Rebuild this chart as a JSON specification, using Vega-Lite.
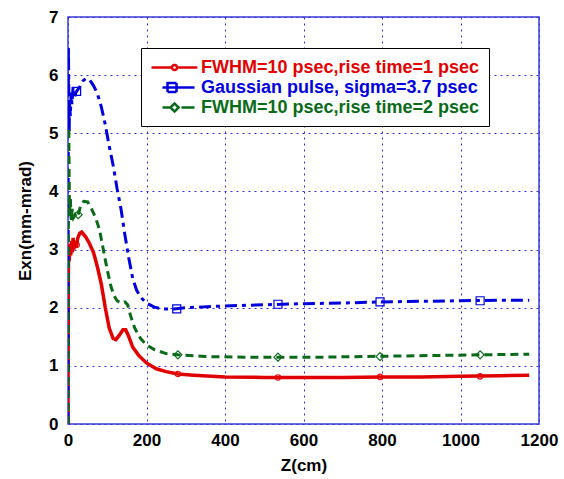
{
  "$schema": "https://vega.github.io/schema/vega-lite/v6.json",
  "autosize": "none",
  "padding": {"left": 68, "top": 17, "right": 25, "bottom": 55},
  "width": 471,
  "height": 407,
  "background": "white",
  "config": {
    "font": "Liberation Sans",
    "view": {"stroke": "#3a3ad8", "strokeWidth": 1.5},
    "axis": {
      "grid": true, "gridColor": "#3030d0", "gridDash": [2, 4], "gridWidth": 1, "gridOpacity": 1,
      "domain": false, "ticks": false, "format": "d",
      "labelFont": "Liberation Sans", "labelFontWeight": "bold", "labelFontSize": 17, "labelColor": "black",
      "titleFont": "Liberation Sans", "titleFontWeight": "bold", "titleFontSize": 17, "titleColor": "black"
    }
  },
  "datasets": {
    "curves": [
      {"s": "FWHM=10 psec,rise time=1 psec", "z": 0, "v": 0},
      {"s": "FWHM=10 psec,rise time=1 psec", "z": 0.5, "v": 1.5},
      {"s": "FWHM=10 psec,rise time=1 psec", "z": 1, "v": 2.7},
      {"s": "FWHM=10 psec,rise time=1 psec", "z": 2, "v": 3.0},
      {"s": "FWHM=10 psec,rise time=1 psec", "z": 3, "v": 2.8},
      {"s": "FWHM=10 psec,rise time=1 psec", "z": 5, "v": 3.1},
      {"s": "FWHM=10 psec,rise time=1 psec", "z": 7, "v": 2.9},
      {"s": "FWHM=10 psec,rise time=1 psec", "z": 9, "v": 3.15},
      {"s": "FWHM=10 psec,rise time=1 psec", "z": 11, "v": 2.95},
      {"s": "FWHM=10 psec,rise time=1 psec", "z": 13, "v": 3.2},
      {"s": "FWHM=10 psec,rise time=1 psec", "z": 15, "v": 3.0},
      {"s": "FWHM=10 psec,rise time=1 psec", "z": 18, "v": 3.15},
      {"s": "FWHM=10 psec,rise time=1 psec", "z": 21, "v": 3.05},
      {"s": "FWHM=10 psec,rise time=1 psec", "z": 25, "v": 3.2},
      {"s": "FWHM=10 psec,rise time=1 psec", "z": 30, "v": 3.28},
      {"s": "FWHM=10 psec,rise time=1 psec", "z": 35, "v": 3.3},
      {"s": "FWHM=10 psec,rise time=1 psec", "z": 45, "v": 3.22},
      {"s": "FWHM=10 psec,rise time=1 psec", "z": 55, "v": 3.1},
      {"s": "FWHM=10 psec,rise time=1 psec", "z": 65, "v": 2.95},
      {"s": "FWHM=10 psec,rise time=1 psec", "z": 75, "v": 2.7},
      {"s": "FWHM=10 psec,rise time=1 psec", "z": 85, "v": 2.4},
      {"s": "FWHM=10 psec,rise time=1 psec", "z": 95, "v": 2.0},
      {"s": "FWHM=10 psec,rise time=1 psec", "z": 105, "v": 1.65},
      {"s": "FWHM=10 psec,rise time=1 psec", "z": 115, "v": 1.47},
      {"s": "FWHM=10 psec,rise time=1 psec", "z": 122, "v": 1.45},
      {"s": "FWHM=10 psec,rise time=1 psec", "z": 130, "v": 1.52},
      {"s": "FWHM=10 psec,rise time=1 psec", "z": 140, "v": 1.62},
      {"s": "FWHM=10 psec,rise time=1 psec", "z": 147, "v": 1.62},
      {"s": "FWHM=10 psec,rise time=1 psec", "z": 155, "v": 1.5},
      {"s": "FWHM=10 psec,rise time=1 psec", "z": 165, "v": 1.32},
      {"s": "FWHM=10 psec,rise time=1 psec", "z": 180, "v": 1.18},
      {"s": "FWHM=10 psec,rise time=1 psec", "z": 200, "v": 1.05},
      {"s": "FWHM=10 psec,rise time=1 psec", "z": 225, "v": 0.95},
      {"s": "FWHM=10 psec,rise time=1 psec", "z": 250, "v": 0.9},
      {"s": "FWHM=10 psec,rise time=1 psec", "z": 280, "v": 0.86},
      {"s": "FWHM=10 psec,rise time=1 psec", "z": 320, "v": 0.84},
      {"s": "FWHM=10 psec,rise time=1 psec", "z": 400, "v": 0.81},
      {"s": "FWHM=10 psec,rise time=1 psec", "z": 500, "v": 0.8},
      {"s": "FWHM=10 psec,rise time=1 psec", "z": 600, "v": 0.8},
      {"s": "FWHM=10 psec,rise time=1 psec", "z": 700, "v": 0.8},
      {"s": "FWHM=10 psec,rise time=1 psec", "z": 800, "v": 0.81},
      {"s": "FWHM=10 psec,rise time=1 psec", "z": 900, "v": 0.81},
      {"s": "FWHM=10 psec,rise time=1 psec", "z": 1000, "v": 0.82},
      {"s": "FWHM=10 psec,rise time=1 psec", "z": 1100, "v": 0.83},
      {"s": "FWHM=10 psec,rise time=1 psec", "z": 1175, "v": 0.84},

      {"s": "Gaussian pulse, sigma=3.7 psec", "z": 0, "v": 0},
      {"s": "Gaussian pulse, sigma=3.7 psec", "z": 0.5, "v": 3.0},
      {"s": "Gaussian pulse, sigma=3.7 psec", "z": 1, "v": 6.5},
      {"s": "Gaussian pulse, sigma=3.7 psec", "z": 2, "v": 5.8},
      {"s": "Gaussian pulse, sigma=3.7 psec", "z": 3, "v": 5.0},
      {"s": "Gaussian pulse, sigma=3.7 psec", "z": 4, "v": 5.5},
      {"s": "Gaussian pulse, sigma=3.7 psec", "z": 6, "v": 5.3},
      {"s": "Gaussian pulse, sigma=3.7 psec", "z": 8, "v": 5.7},
      {"s": "Gaussian pulse, sigma=3.7 psec", "z": 10, "v": 5.5},
      {"s": "Gaussian pulse, sigma=3.7 psec", "z": 13, "v": 5.8},
      {"s": "Gaussian pulse, sigma=3.7 psec", "z": 16, "v": 5.6},
      {"s": "Gaussian pulse, sigma=3.7 psec", "z": 20, "v": 5.7},
      {"s": "Gaussian pulse, sigma=3.7 psec", "z": 25, "v": 5.75},
      {"s": "Gaussian pulse, sigma=3.7 psec", "z": 30, "v": 5.8},
      {"s": "Gaussian pulse, sigma=3.7 psec", "z": 38, "v": 5.9},
      {"s": "Gaussian pulse, sigma=3.7 psec", "z": 45, "v": 5.94},
      {"s": "Gaussian pulse, sigma=3.7 psec", "z": 55, "v": 5.92},
      {"s": "Gaussian pulse, sigma=3.7 psec", "z": 65, "v": 5.82},
      {"s": "Gaussian pulse, sigma=3.7 psec", "z": 75, "v": 5.68},
      {"s": "Gaussian pulse, sigma=3.7 psec", "z": 85, "v": 5.45},
      {"s": "Gaussian pulse, sigma=3.7 psec", "z": 95, "v": 5.15},
      {"s": "Gaussian pulse, sigma=3.7 psec", "z": 105, "v": 4.78},
      {"s": "Gaussian pulse, sigma=3.7 psec", "z": 115, "v": 4.45},
      {"s": "Gaussian pulse, sigma=3.7 psec", "z": 125, "v": 4.05},
      {"s": "Gaussian pulse, sigma=3.7 psec", "z": 135, "v": 3.7},
      {"s": "Gaussian pulse, sigma=3.7 psec", "z": 145, "v": 3.25},
      {"s": "Gaussian pulse, sigma=3.7 psec", "z": 155, "v": 2.85},
      {"s": "Gaussian pulse, sigma=3.7 psec", "z": 165, "v": 2.5},
      {"s": "Gaussian pulse, sigma=3.7 psec", "z": 175, "v": 2.3},
      {"s": "Gaussian pulse, sigma=3.7 psec", "z": 185, "v": 2.18},
      {"s": "Gaussian pulse, sigma=3.7 psec", "z": 200, "v": 2.08},
      {"s": "Gaussian pulse, sigma=3.7 psec", "z": 220, "v": 2.01},
      {"s": "Gaussian pulse, sigma=3.7 psec", "z": 240, "v": 1.98},
      {"s": "Gaussian pulse, sigma=3.7 psec", "z": 270, "v": 1.98},
      {"s": "Gaussian pulse, sigma=3.7 psec", "z": 300, "v": 2.0},
      {"s": "Gaussian pulse, sigma=3.7 psec", "z": 400, "v": 2.03},
      {"s": "Gaussian pulse, sigma=3.7 psec", "z": 500, "v": 2.05},
      {"s": "Gaussian pulse, sigma=3.7 psec", "z": 600, "v": 2.07},
      {"s": "Gaussian pulse, sigma=3.7 psec", "z": 700, "v": 2.08},
      {"s": "Gaussian pulse, sigma=3.7 psec", "z": 800, "v": 2.1},
      {"s": "Gaussian pulse, sigma=3.7 psec", "z": 900, "v": 2.11},
      {"s": "Gaussian pulse, sigma=3.7 psec", "z": 1000, "v": 2.12},
      {"s": "Gaussian pulse, sigma=3.7 psec", "z": 1100, "v": 2.13},
      {"s": "Gaussian pulse, sigma=3.7 psec", "z": 1175, "v": 2.13},

      {"s": "FWHM=10 psec,rise time=2 psec", "z": 0, "v": 0},
      {"s": "FWHM=10 psec,rise time=2 psec", "z": 0.5, "v": 2.0},
      {"s": "FWHM=10 psec,rise time=2 psec", "z": 1, "v": 4.0},
      {"s": "FWHM=10 psec,rise time=2 psec", "z": 2, "v": 5.1},
      {"s": "FWHM=10 psec,rise time=2 psec", "z": 3, "v": 4.2},
      {"s": "FWHM=10 psec,rise time=2 psec", "z": 4, "v": 3.6},
      {"s": "FWHM=10 psec,rise time=2 psec", "z": 6, "v": 3.9},
      {"s": "FWHM=10 psec,rise time=2 psec", "z": 8, "v": 3.5},
      {"s": "FWHM=10 psec,rise time=2 psec", "z": 11, "v": 3.7},
      {"s": "FWHM=10 psec,rise time=2 psec", "z": 14, "v": 3.55},
      {"s": "FWHM=10 psec,rise time=2 psec", "z": 18, "v": 3.6},
      {"s": "FWHM=10 psec,rise time=2 psec", "z": 22, "v": 3.55},
      {"s": "FWHM=10 psec,rise time=2 psec", "z": 26, "v": 3.6},
      {"s": "FWHM=10 psec,rise time=2 psec", "z": 32, "v": 3.75},
      {"s": "FWHM=10 psec,rise time=2 psec", "z": 40, "v": 3.83},
      {"s": "FWHM=10 psec,rise time=2 psec", "z": 50, "v": 3.82},
      {"s": "FWHM=10 psec,rise time=2 psec", "z": 60, "v": 3.7},
      {"s": "FWHM=10 psec,rise time=2 psec", "z": 70, "v": 3.55},
      {"s": "FWHM=10 psec,rise time=2 psec", "z": 80, "v": 3.35},
      {"s": "FWHM=10 psec,rise time=2 psec", "z": 90, "v": 3.0},
      {"s": "FWHM=10 psec,rise time=2 psec", "z": 100, "v": 2.65},
      {"s": "FWHM=10 psec,rise time=2 psec", "z": 110, "v": 2.35},
      {"s": "FWHM=10 psec,rise time=2 psec", "z": 118, "v": 2.2},
      {"s": "FWHM=10 psec,rise time=2 psec", "z": 125, "v": 2.12},
      {"s": "FWHM=10 psec,rise time=2 psec", "z": 135, "v": 2.08},
      {"s": "FWHM=10 psec,rise time=2 psec", "z": 145, "v": 2.1},
      {"s": "FWHM=10 psec,rise time=2 psec", "z": 152, "v": 2.05},
      {"s": "FWHM=10 psec,rise time=2 psec", "z": 160, "v": 1.85},
      {"s": "FWHM=10 psec,rise time=2 psec", "z": 170, "v": 1.65},
      {"s": "FWHM=10 psec,rise time=2 psec", "z": 185, "v": 1.47},
      {"s": "FWHM=10 psec,rise time=2 psec", "z": 200, "v": 1.36},
      {"s": "FWHM=10 psec,rise time=2 psec", "z": 220, "v": 1.28},
      {"s": "FWHM=10 psec,rise time=2 psec", "z": 250, "v": 1.21},
      {"s": "FWHM=10 psec,rise time=2 psec", "z": 280, "v": 1.19},
      {"s": "FWHM=10 psec,rise time=2 psec", "z": 350, "v": 1.16},
      {"s": "FWHM=10 psec,rise time=2 psec", "z": 450, "v": 1.15},
      {"s": "FWHM=10 psec,rise time=2 psec", "z": 550, "v": 1.15},
      {"s": "FWHM=10 psec,rise time=2 psec", "z": 650, "v": 1.15},
      {"s": "FWHM=10 psec,rise time=2 psec", "z": 750, "v": 1.16},
      {"s": "FWHM=10 psec,rise time=2 psec", "z": 850, "v": 1.17},
      {"s": "FWHM=10 psec,rise time=2 psec", "z": 950, "v": 1.18},
      {"s": "FWHM=10 psec,rise time=2 psec", "z": 1050, "v": 1.19},
      {"s": "FWHM=10 psec,rise time=2 psec", "z": 1175, "v": 1.2}
    ],
    "markers": [
      {"m": "FWHM=10 psec,rise time=1 psec", "z": 22, "v": 3.08},
      {"m": "FWHM=10 psec,rise time=1 psec", "z": 280, "v": 0.86},
      {"m": "FWHM=10 psec,rise time=1 psec", "z": 535, "v": 0.8},
      {"m": "FWHM=10 psec,rise time=1 psec", "z": 795, "v": 0.81},
      {"m": "FWHM=10 psec,rise time=1 psec", "z": 1050, "v": 0.82},
      {"m": "Gaussian pulse, sigma=3.7 psec", "z": 22, "v": 5.72},
      {"m": "Gaussian pulse, sigma=3.7 psec", "z": 277, "v": 1.98},
      {"m": "Gaussian pulse, sigma=3.7 psec", "z": 535, "v": 2.06},
      {"m": "Gaussian pulse, sigma=3.7 psec", "z": 795, "v": 2.1},
      {"m": "Gaussian pulse, sigma=3.7 psec", "z": 1050, "v": 2.12},
      {"m": "FWHM=10 psec,rise time=2 psec", "z": 26, "v": 3.6},
      {"m": "FWHM=10 psec,rise time=2 psec", "z": 280, "v": 1.19},
      {"m": "FWHM=10 psec,rise time=2 psec", "z": 535, "v": 1.15},
      {"m": "FWHM=10 psec,rise time=2 psec", "z": 795, "v": 1.16},
      {"m": "FWHM=10 psec,rise time=2 psec", "z": 1050, "v": 1.19}
    ]
  },
  "encoding": {
    "x": {"field": "z", "type": "quantitative", "scale": {"domain": [0, 1200]},
          "axis": {"values": [0, 200, 400, 600, 800, 1000, 1200], "title": "Z(cm)", "labelPadding": 8, "titlePadding": 9, "labelFlush": false}},
    "y": {"field": "v", "type": "quantitative", "scale": {"domain": [0, 7]},
          "axis": {"values": [0, 1, 2, 3, 4, 5, 6, 7], "title": "Exn(mm-mrad)", "labelPadding": 10, "titlePadding": 14}}
  },
  "layer": [
    {
      "data": {"name": "curves"},
      "transform": [{"filter": {"field": "s", "equal": "FWHM=10 psec,rise time=1 psec"}}],
      "mark": {"type": "line", "strokeWidth": 3.5, "clip": true},
      "encoding": {
        "color": {"field": "s", "type": "nominal",
          "scale": {"domain": ["FWHM=10 psec,rise time=1 psec", "Gaussian pulse, sigma=3.7 psec", "FWHM=10 psec,rise time=2 psec"],
                    "range": ["#e00000", "#0000dd", "#0a6a1a"]},
          "legend": {
            "title": null, "orient": "none", "legendX": 73, "legendY": 31,
            "padding": 9, "fillColor": "white", "strokeColor": "black",
            "labelFont": "Liberation Sans", "labelFontWeight": "bold", "labelFontSize": 18, "labelLimit": 400,
            "labelColor": {"expr": "datum.index == 0 ? '#e00000' : datum.index == 1 ? '#0000dd' : '#0a6a1a'"},
            "symbolType": {"expr": "datum.index == 0 ? 'M-1,0L1.28,0M1.84,0L4.1,0M1.84,0A0.28,0.28,0,1,1,1.28,0A0.28,0.28,0,1,1,1.84,0' : datum.index == 1 ? 'M0.22,0L0.67,0M0.78,-0.5L1.78,-0.5L1.78,0.5L0.78,0.5ZM0.78,0L3.78,0' : 'M0.22,0L1.11,0M1.56,-0.45L2.01,0L1.56,0.45L1.11,0ZM2.33,0L3.78,0'"},
            "symbolSize": 324, "symbolStrokeWidth": 2.5, "symbolDash": [1, 0], "rowPadding": 0, "labelOffset": 30
          }}
      }
    },
    {
      "data": {"name": "curves"},
      "transform": [{"filter": {"field": "s", "equal": "Gaussian pulse, sigma=3.7 psec"}}],
      "mark": {"type": "line", "strokeWidth": 3, "clip": true, "strokeDash": [12, 5, 4, 5]},
      "encoding": {"color": {"field": "s", "type": "nominal"}}
    },
    {
      "data": {"name": "curves"},
      "transform": [{"filter": {"field": "s", "equal": "FWHM=10 psec,rise time=2 psec"}}],
      "mark": {"type": "line", "strokeWidth": 3, "clip": true, "strokeDash": [8, 5]},
      "encoding": {"color": {"field": "s", "type": "nominal"}}
    },
    {
      "data": {"name": "markers"},
      "transform": [{"filter": {"field": "m", "equal": "FWHM=10 psec,rise time=1 psec"}}],
      "mark": {"type": "point", "filled": false, "strokeWidth": 1.2, "opacity": 1, "shape": "circle", "size": 30, "color": "#e00000"}
    },
    {
      "data": {"name": "markers"},
      "transform": [{"filter": {"field": "m", "equal": "Gaussian pulse, sigma=3.7 psec"}}],
      "mark": {"type": "point", "filled": false, "strokeWidth": 1.2, "opacity": 1, "shape": "square", "size": 64, "color": "#0000dd"}
    },
    {
      "data": {"name": "markers"},
      "transform": [{"filter": {"field": "m", "equal": "FWHM=10 psec,rise time=2 psec"}}],
      "mark": {"type": "point", "filled": false, "strokeWidth": 1.2, "opacity": 1, "shape": "diamond", "size": 64, "color": "#0a6a1a"}
    }
  ]
}
